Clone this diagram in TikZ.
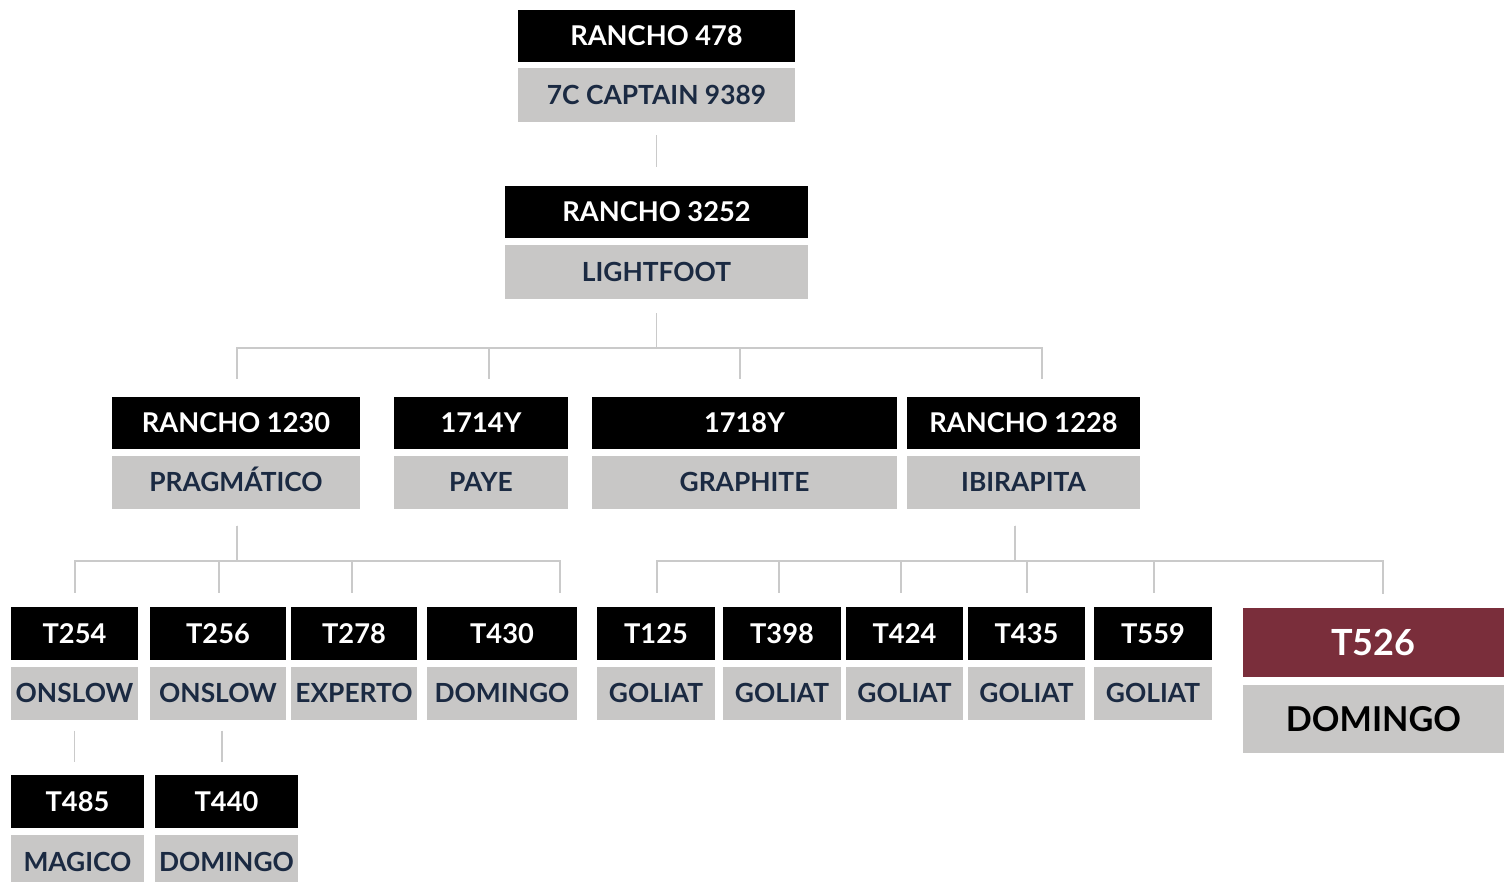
\documentclass[tikz,border=0pt]{standalone}
\usepackage{fontspec}
\setmainfont{Lato}

\definecolor{navy}{HTML}{1B2A42}
\definecolor{boxgray}{HTML}{C8C7C6}
\definecolor{linegray}{HTML}{CACACA}
\definecolor{maroon}{HTML}{7A2E3B}

\tikzstyle{headbox} = [fill=black, text=white, inner sep=0pt, minimum height=1.05cm, text height=11.1pt, text depth=0pt, font=\bfseries\fontsize{15.5}{15.5}\selectfont]
\tikzstyle{namebox} = [fill=boxgray, text=navy, inner sep=0pt, minimum height=1.07cm, text height=10.75pt, text depth=0pt, font=\bfseries\fontsize{15}{15}\selectfont]
\tikzstyle{redbox} = [headbox, fill=maroon, minimum height=1.38cm, text height=14.7pt, font=\bfseries\fontsize{20.5}{20.5}\selectfont]
\tikzstyle{bignamebox} = [namebox, text=black, minimum height=1.36cm, text height=14pt, font=\bfseries\fontsize{19.5}{19.5}\selectfont]
\tikzstyle{link} = [draw=linegray, line width=1.1pt]

\begin{document}
\begin{tikzpicture}[x=0.02cm, y=-0.02cm]
	\useasboundingbox (0,0) rectangle (1504,882);

	% sire line
	\node[headbox, minimum width=5.54cm] (r478) at (656.5,36) {RANCHO 478};
	\node[namebox, minimum width=5.54cm] (captain) at (656.5,95) {7C CAPTAIN 9389};
	\node[headbox, minimum width=6.06cm] (r3252) at (656.5,212) {RANCHO 3252};
	\node[namebox, minimum width=6.06cm] (lightfoot) at (656.5,272) {LIGHTFOOT};

	% second row
	\node[headbox, minimum width=4.96cm] (r1230) at (236,423) {RANCHO 1230};
	\node[namebox, minimum width=4.96cm] (pragmatico) at (236,482.5) {PRAGMÁTICO};
	\node[headbox, minimum width=3.48cm] (y1714) at (481,423) {1714Y};
	\node[namebox, minimum width=3.48cm] (paye) at (481,482.5) {PAYE};
	\node[headbox, minimum width=6.10cm] (y1718) at (744.5,423) {1718Y};
	\node[namebox, minimum width=6.10cm] (graphite) at (744.5,482.5) {GRAPHITE};
	\node[headbox, minimum width=4.66cm] (r1228) at (1023.5,423) {RANCHO 1228};
	\node[namebox, minimum width=4.66cm] (ibirapita) at (1023.5,482.5) {IBIRAPITA};

	% third row
	\node[headbox, minimum width=2.54cm] (t254) at (74.5,633.5) {T254};
	\node[namebox, minimum width=2.54cm] (onslowA) at (74.5,693.5) {ONSLOW};
	\node[headbox, minimum width=2.72cm] (t256) at (218,633.5) {T256};
	\node[namebox, minimum width=2.72cm] (onslowB) at (218,693.5) {ONSLOW};
	\node[headbox, minimum width=2.52cm] (t278) at (354,633.5) {T278};
	\node[namebox, minimum width=2.52cm] (experto) at (354,693.5) {EXPERTO};
	\node[headbox, minimum width=3.00cm] (t430) at (502,633.5) {T430};
	\node[namebox, minimum width=3.00cm] (domingoA) at (502,693.5) {DOMINGO};

	\node[headbox, minimum width=2.36cm] (t125) at (656,633.5) {T125};
	\node[namebox, minimum width=2.36cm] (goliatA) at (656,693.5) {GOLIAT};
	\node[headbox, minimum width=2.36cm] (t398) at (782,633.5) {T398};
	\node[namebox, minimum width=2.36cm] (goliatB) at (782,693.5) {GOLIAT};
	\node[headbox, minimum width=2.34cm] (t424) at (904.5,633.5) {T424};
	\node[namebox, minimum width=2.34cm] (goliatC) at (904.5,693.5) {GOLIAT};
	\node[headbox, minimum width=2.34cm] (t435) at (1026.5,633.5) {T435};
	\node[namebox, minimum width=2.34cm] (goliatD) at (1026.5,693.5) {GOLIAT};
	\node[headbox, minimum width=2.36cm] (t559) at (1153,633.5) {T559};
	\node[namebox, minimum width=2.36cm] (goliatE) at (1153,693.5) {GOLIAT};
	\node[redbox, minimum width=5.22cm] (t526) at (1373.5,642.5) {T526};
	\node[bignamebox, minimum width=5.22cm] (domingoC) at (1373.5,719) {DOMINGO};

	% fourth row
	\node[headbox, minimum width=2.66cm] (t485) at (77.5,801.5) {T485};
	\node[namebox, minimum width=2.66cm] (magico) at (77.5,862) {MAGICO};
	\node[headbox, minimum width=2.86cm] (t440) at (226.5,801.5) {T440};
	\node[namebox, minimum width=2.86cm] (domingoB) at (226.5,862) {DOMINGO};

	% links
	\draw[link, shorten <=0.26cm, shorten >=0.36cm] (captain) -- (r3252);
	\foreach \c/\dx in {r1230/1, y1714/8, y1718/-4.5, r1228/18.5}
		\draw[link, shorten <=0.28cm, shorten >=0.34cm] (lightfoot.south) -- ++(0,49) -| ([xshift=\dx*0.02cm]\c.north);
	\foreach \c/\dx in {t254/0.5, t256/1, t278/-2, t430/58}
		\draw[link, shorten <=0.32cm, shorten >=0.28cm] ([xshift=0.02cm]pragmatico.south) -- ++(0,51) -| ([xshift=\dx*0.02cm]\c.north);
	\foreach \c/\dx in {t125/1, t398/-3, t424/-3.5, t435/0.5, t559/1, t526/9.5}
		\draw[link, shorten <=0.32cm, shorten >=0.28cm] ([xshift=-0.17cm]ibirapita.south) -- ++(0,51) -| ([xshift=\dx*0.02cm]\c.north);
	\draw[link, shorten <=0.2cm, shorten >=0.26cm] (onslowA.south) -- (onslowA.south |- t485.north);
	\draw[link, shorten <=0.2cm, shorten >=0.26cm] ([xshift=0.08cm]onslowB.south) -- ([xshift=0.08cm]onslowB.south |- t440.north);
\end{tikzpicture}
\end{document}
